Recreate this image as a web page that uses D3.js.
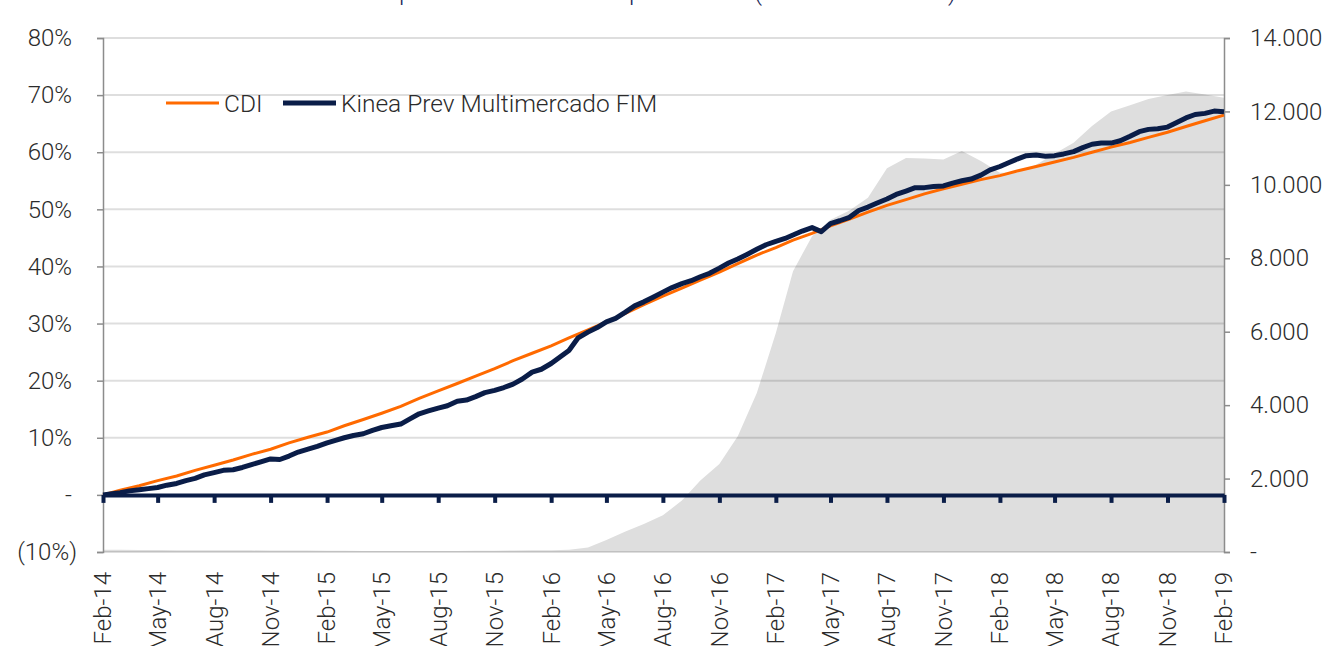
<!DOCTYPE html>
<html>
<head>
<meta charset="utf-8">
<script src="https://cdn.jsdelivr.net/npm/d3@7"></script>
<style>
  body { margin: 0; background: #fff; }
  svg text { font-family: Roboto, "Open Sans", sans-serif; font-weight: 300; fill: #2b2b2b; }
</style>
</head>
<body>
<div id="chart"></div>
<script>
// quarterly labels of the date axis
var tickLabels = ["Feb-14","May-14","Aug-14","Nov-14","Feb-15","May-15","Aug-15","Nov-15",
                  "Feb-16","May-16","Aug-16","Nov-16","Feb-17","May-17","Aug-17","Nov-17",
                  "Feb-18","May-18","Aug-18","Nov-18","Feb-19"];

// CDI accumulated (%), one value per month from Feb-14
var cdiValues = [0.0,0.8,1.6,2.5,3.3,4.3,5.2,6.1,7.1,8.0,9.1,10.1,11.0,
                 12.1,13.2,14.3,15.5,16.9,18.2,19.5,20.8,22.1,23.5,24.8,26.1,
                 27.5,28.9,30.3,31.8,33.3,34.8,36.2,37.6,39.0,40.5,42.0,43.3,
                 44.6,45.8,47.1,48.3,49.5,50.7,51.7,52.7,53.6,54.4,55.2,55.9,
                 56.7,57.5,58.3,59.1,60.0,60.9,61.7,62.6,63.5,64.5,65.5,66.5];

// Kinea Prev Multimercado FIM accumulated (%), two values per month
var kineaValues = [0.0,0.2,0.4,0.7,0.9,1.1,1.3,1.7,2.0,2.5,2.9,3.5,3.9,4.3,4.4,4.8,
                   5.3,5.8,6.3,6.2,6.8,7.5,8.0,8.5,9.1,9.6,10.0,10.4,10.7,11.3,11.8,12.1,
                   12.4,13.3,14.2,14.7,15.2,15.6,16.4,16.6,17.2,17.9,18.3,18.8,19.4,20.3,21.5,22.0,
                   23.0,24.2,25.3,27.5,28.5,29.3,30.3,30.9,32.0,33.1,33.8,34.6,35.5,36.3,37.0,37.5,
                   38.2,38.8,39.7,40.6,41.3,42.1,43.0,43.8,44.4,44.9,45.5,46.2,46.8,46.1,47.5,48.0,
                   48.6,49.8,50.4,51.1,51.8,52.6,53.2,53.8,53.8,54.0,54.1,54.6,55.0,55.3,56.0,56.9,
                   57.5,58.2,58.8,59.4,59.5,59.3,59.4,59.7,60.1,60.8,61.4,61.6,61.6,62.0,62.8,63.6,
                   64.0,64.1,64.4,65.2,66.0,66.6,66.8,67.2,67.1];

// assets under management (right axis), one value per month from Feb-14
var aumValues = [60,60,55,55,50,50,50,45,45,40,40,40,
                 35,35,30,30,30,30,30,30,35,35,40,45,50,
                 60,120,330,560,760,1000,1400,1950,2400,3150,4330,5965,
                 7650,8600,9050,9300,9650,10450,10730,10720,10690,10920,10650,10330,
                 10330,10550,10850,11150,11600,12000,12170,12340,12450,12540,12460,12370];

var leftTicks = [-0.1,0,0.1,0.2,0.3,0.4,0.5,0.6,0.7,0.8];
var rightTicks = [0,2000,4000,6000,8000,10000,12000,14000];
var seriesNames = ["CDI","Kinea Prev Multimercado FIM"];
var titleText = "Rentabilidade: performance x CDI e patrimônio (milhares de reais)";

var W = 1326, H = 646;
var margin = {top: 38, right: 102, bottom: 94, left: 103};
var w = W - margin.left - margin.right,
    h = H - margin.top - margin.bottom;

var orange = "#ff6a00", navy = "#0a1d48", grey = "#8c8c8c";

var parseMonth = d3.timeParse("%b-%y");
var start = parseMonth(tickLabels[0]);
var end = parseMonth(tickLabels[tickLabels.length - 1]);
var monthDates = cdiValues.map(function(d, i){ return d3.timeMonth.offset(start, i); });
var halfDates = kineaValues.map(function(d, i){
    return d3.timeDay.offset(d3.timeMonth.offset(start, Math.floor(i / 2)), (i % 2) * 15);
});
var tickDates = tickLabels.map(parseMonth);

var x  = d3.scaleTime().domain([start, end]).range([0, w]);
var y  = d3.scaleLinear().domain([-0.1, 0.8]).range([h, 0]);
var y2 = d3.scaleLinear().domain([0, 14000]).range([h, 0]);

var br = d3.formatLocale({decimal: ",", thousands: ".", grouping: [3], currency: ["R$", ""]});
var fmtRight = function(d){ return d === 0 ? "-" : br.format(",")(d); };
var fmtLeft = function(d){
    if (Math.abs(d) < 1e-9) return "-";
    var s = Math.round(Math.abs(d) * 100) + "%";
    return d < 0 ? "(" + s + ")" : s;
};

var svg = d3.select("#chart").append("svg").attr("width", W).attr("height", H);

// title (sits above the picture, only the descenders show)
var title = svg.append("text")
    .attr("y", -0.5)
    .attr("font-size", 25)
    .style("fill", "#1f2a5a")
    .text(titleText);
var pIdx = titleText.indexOf("performance");
title.attr("x", 399 - title.node().getSubStringLength(0, pIdx));

var g = svg.append("g").attr("transform", "translate(" + margin.left + "," + margin.top + ")");

// grey area on the right axis
g.append("path")
    .datum(aumValues)
    .attr("fill", "#dedede")
    .attr("d", d3.area()
        .x(function(d, i){ return x(monthDates[i]); })
        .y0(h)
        .y1(function(d){ return y2(d); }));

// gridlines
g.append("g")
    .selectAll("line")
    .data(leftTicks)
    .enter().append("line")
    .attr("x1", 0).attr("x2", w)
    .attr("y1", function(d){ return y(d); })
    .attr("y2", function(d){ return y(d); })
    .attr("stroke", "#000").attr("stroke-opacity", 0.13).attr("stroke-width", 2);

// left axis
var gl = g.append("g").call(d3.axisLeft(y).tickValues(leftTicks).tickSize(6).tickFormat(fmtLeft));
gl.select(".domain").attr("stroke", grey).attr("stroke-width", 1.5);
gl.selectAll(".tick line").attr("stroke", grey).attr("stroke-width", 1.5);
gl.selectAll(".tick text")
    .attr("x", function(d){ return d < 0 ? -26 : -31; })
    .attr("font-size", 24).attr("font-family", null);

// right axis
var gr = g.append("g").attr("transform", "translate(" + w + ",0)")
    .call(d3.axisRight(y2).tickValues(rightTicks).tickSize(6).tickPadding(20).tickFormat(fmtRight));
gr.select(".domain").attr("stroke", grey).attr("stroke-width", 1.5);
gr.selectAll(".tick line").attr("stroke", grey).attr("stroke-width", 1.5);
gr.selectAll(".tick text").attr("font-size", 24).attr("font-family", null);

// series lines
g.append("path")
    .datum(cdiValues)
    .attr("fill", "none").attr("stroke", orange).attr("stroke-width", 3)
    .attr("d", d3.line()
        .x(function(d, i){ return x(monthDates[i]); })
        .y(function(d){ return y(d / 100); }));

g.append("path")
    .datum(kineaValues)
    .attr("fill", "none").attr("stroke", navy).attr("stroke-width", 5)
    .attr("stroke-linejoin", "round")
    .attr("d", d3.line()
        .x(function(d, i){ return x(halfDates[i]); })
        .y(function(d){ return y(d / 100); }));

// zero axis with quarterly ticks
var gx = g.append("g").attr("transform", "translate(0," + y(0) + ")")
    .call(d3.axisBottom(x).tickValues(tickDates).tickSize(8).tickSizeOuter(0).tickFormat(""));
gx.select(".domain").attr("stroke", navy).attr("stroke-width", 4);
gx.selectAll(".tick line").attr("stroke", navy).attr("stroke-width", 4);

// date labels, rotated
g.append("g")
    .selectAll("text")
    .data(tickLabels)
    .enter().append("text")
    .attr("transform", function(d){ return "translate(" + x(parseMonth(d)) + "," + (h + 20) + ") rotate(-90)"; })
    .attr("text-anchor", "end")
    .attr("dy", "0.35em")
    .attr("font-size", 24)
    .text(function(d){ return d; });

// legend
var legend = svg.append("g").attr("transform", "translate(166,103)");
var items = [{name: seriesNames[0], color: orange, sw: 3, x: 0},
             {name: seriesNames[1], color: navy, sw: 5, x: 117}];
var li = legend.selectAll("g").data(items).enter().append("g")
    .attr("transform", function(d){ return "translate(" + d.x + ",0)"; });
li.append("line").attr("x1", 0).attr("x2", 53)
    .attr("stroke", function(d){ return d.color; })
    .attr("stroke-width", function(d){ return d.sw; });
li.append("text").attr("x", 58).attr("dy", "0.35em").attr("font-size", 24.5)
    .text(function(d){ return d.name; });
</script>
</body>
</html>
